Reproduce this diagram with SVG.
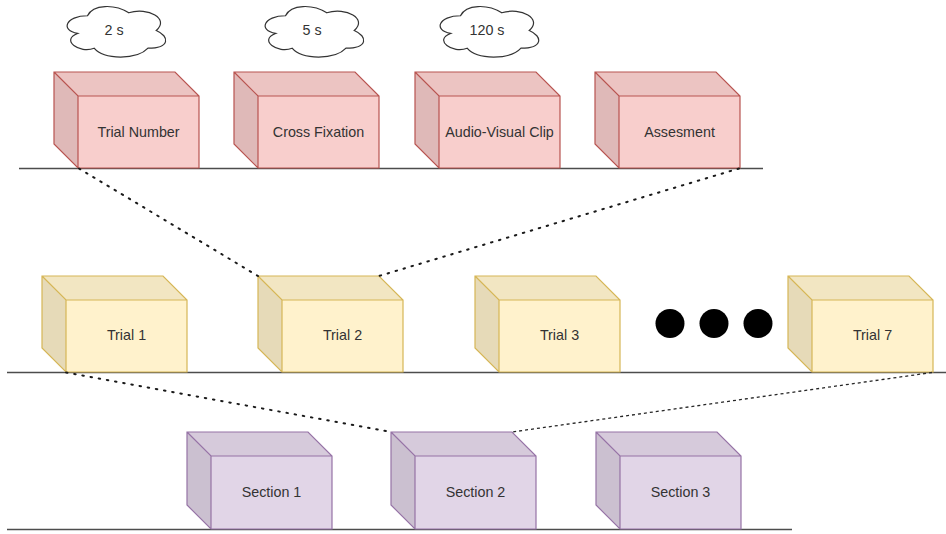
<svg xmlns="http://www.w3.org/2000/svg" width="946" height="534" viewBox="0 0 946 534">
<defs>
<style>
.lbl{font-family:"Liberation Sans",Arial,sans-serif;font-size:14.3px;fill:#333333;text-anchor:middle;dominant-baseline:central}
.ground{stroke:#4d4d4d;stroke-width:1.5;fill:none}
.cloud{fill:#ffffff;stroke:#333333;stroke-width:1.2}
.red .front{fill:#f8cecc}.red .top{fill:#ecc4c2}.red .side{fill:#dfb9b8}.red .edge{stroke:#b85450}
.yel .front{fill:#fff2cc}.yel .top{fill:#f2e6c2}.yel .side{fill:#e6dab8}.yel .edge{stroke:#d6b656}
.pur .front{fill:#e1d5e7}.pur .top{fill:#d6cadb}.pur .side{fill:#cbc0d0}.pur .edge{stroke:#9673a6}
.edge{fill:none;stroke-width:1.2;stroke-linejoin:miter}
.dot{fill:none;stroke:#1a1a1a;stroke-width:2;stroke-dasharray:1.5 6.8;stroke-linecap:round}
.dash{fill:none;stroke:#262626;stroke-width:1.3;stroke-dasharray:3 3}
</style>
</defs>
<rect width="946" height="534" fill="#ffffff"/>

<!-- ground lines -->
<line class="ground" x1="19" y1="168.5" x2="763" y2="168.5"/>
<line class="ground" x1="7" y1="372.5" x2="946" y2="372.5"/>
<line class="ground" x1="7" y1="529.5" x2="792" y2="529.5"/>

<!-- clouds -->
<g id="cloud-2s">
<path class="cloud" transform="translate(60,1) scale(110,59)" vector-effect="non-scaling-stroke" d="M0.25 0.25C0.05 0.25 0 0.5 0.16 0.55C0 0.66 0.18 0.9 0.31 0.8C0.4 1 0.7 1 0.8 0.8C1 0.8 1 0.6 0.875 0.5C1 0.3 0.8 0.1 0.625 0.2C0.5 0.05 0.3 0.05 0.25 0.25Z"/>
<text class="lbl" x="114" y="30">2 s</text>
</g>
<g id="cloud-5s">
<path class="cloud" transform="translate(258,1) scale(110,59)" vector-effect="non-scaling-stroke" d="M0.25 0.25C0.05 0.25 0 0.5 0.16 0.55C0 0.66 0.18 0.9 0.31 0.8C0.4 1 0.7 1 0.8 0.8C1 0.8 1 0.6 0.875 0.5C1 0.3 0.8 0.1 0.625 0.2C0.5 0.05 0.3 0.05 0.25 0.25Z"/>
<text class="lbl" x="312" y="30">5 s</text>
</g>
<g id="cloud-120s">
<path class="cloud" transform="translate(433,1) scale(110,59)" vector-effect="non-scaling-stroke" d="M0.25 0.25C0.05 0.25 0 0.5 0.16 0.55C0 0.66 0.18 0.9 0.31 0.8C0.4 1 0.7 1 0.8 0.8C1 0.8 1 0.6 0.875 0.5C1 0.3 0.8 0.1 0.625 0.2C0.5 0.05 0.3 0.05 0.25 0.25Z"/>
<text class="lbl" x="487" y="30">120 s</text>
</g>

<!-- top row: w=145 h=96 d=24 -->
<g id="trial-number" class="red" transform="translate(54,72)">
<rect class="front" x="24" y="24" width="121" height="72"/>
<polygon class="top" points="0,0 121,0 145,24 24,24"/>
<polygon class="side" points="0,0 24,24 24,96 0,72"/>
<path class="edge" d="M0 0H121L145 24V96H24L0 72Z M0 0L24 24H145 M24 24V96"/>
<text class="lbl" x="84.5" y="60">Trial Number</text>
</g>
<g id="cross-fixation" class="red" transform="translate(234,72)">
<rect class="front" x="24" y="24" width="121" height="72"/>
<polygon class="top" points="0,0 121,0 145,24 24,24"/>
<polygon class="side" points="0,0 24,24 24,96 0,72"/>
<path class="edge" d="M0 0H121L145 24V96H24L0 72Z M0 0L24 24H145 M24 24V96"/>
<text class="lbl" x="84.5" y="60">Cross Fixation</text>
</g>
<g id="audio-visual-clip" class="red" transform="translate(415,72)">
<rect class="front" x="24" y="24" width="121" height="72"/>
<polygon class="top" points="0,0 121,0 145,24 24,24"/>
<polygon class="side" points="0,0 24,24 24,96 0,72"/>
<path class="edge" d="M0 0H121L145 24V96H24L0 72Z M0 0L24 24H145 M24 24V96"/>
<text class="lbl" x="84.5" y="60">Audio-Visual Clip</text>
</g>
<g id="assesment" class="red" transform="translate(595,72)">
<rect class="front" x="24" y="24" width="121" height="72"/>
<polygon class="top" points="0,0 121,0 145,24 24,24"/>
<polygon class="side" points="0,0 24,24 24,96 0,72"/>
<path class="edge" d="M0 0H121L145 24V96H24L0 72Z M0 0L24 24H145 M24 24V96"/>
<text class="lbl" x="84.5" y="60">Assesment</text>
</g>

<!-- middle row -->
<g id="trial-1" class="yel" transform="translate(42,276)">
<rect class="front" x="24" y="24" width="121" height="72"/>
<polygon class="top" points="0,0 121,0 145,24 24,24"/>
<polygon class="side" points="0,0 24,24 24,96 0,72"/>
<path class="edge" d="M0 0H121L145 24V96H24L0 72Z M0 0L24 24H145 M24 24V96"/>
<text class="lbl" x="84.5" y="59">Trial 1</text>
</g>
<g id="trial-2" class="yel" transform="translate(258,276)">
<rect class="front" x="24" y="24" width="121" height="72"/>
<polygon class="top" points="0,0 121,0 145,24 24,24"/>
<polygon class="side" points="0,0 24,24 24,96 0,72"/>
<path class="edge" d="M0 0H121L145 24V96H24L0 72Z M0 0L24 24H145 M24 24V96"/>
<text class="lbl" x="84.5" y="59">Trial 2</text>
</g>
<g id="trial-3" class="yel" transform="translate(475,276)">
<rect class="front" x="24" y="24" width="121" height="72"/>
<polygon class="top" points="0,0 121,0 145,24 24,24"/>
<polygon class="side" points="0,0 24,24 24,96 0,72"/>
<path class="edge" d="M0 0H121L145 24V96H24L0 72Z M0 0L24 24H145 M24 24V96"/>
<text class="lbl" x="84.5" y="59">Trial 3</text>
</g>
<g id="ellipsis">
<circle cx="670" cy="323.5" r="14.5" fill="#000000"/>
<circle cx="714" cy="323.5" r="14.5" fill="#000000"/>
<circle cx="758" cy="323.5" r="14.5" fill="#000000"/>
</g>
<g id="trial-7" class="yel" transform="translate(788,276)">
<rect class="front" x="24" y="24" width="121" height="72"/>
<polygon class="top" points="0,0 121,0 145,24 24,24"/>
<polygon class="side" points="0,0 24,24 24,96 0,72"/>
<path class="edge" d="M0 0H121L145 24V96H24L0 72Z M0 0L24 24H145 M24 24V96"/>
<text class="lbl" x="84.5" y="59">Trial 7</text>
</g>

<!-- bottom row -->
<g id="section-1" class="pur" transform="translate(187,432)">
<rect class="front" x="24" y="24" width="121" height="73"/>
<polygon class="top" points="0,0 121,0 145,24 24,24"/>
<polygon class="side" points="0,0 24,24 24,97 0,73"/>
<path class="edge" d="M0 0H121L145 24V97H24L0 73Z M0 0L24 24H145 M24 24V97"/>
<text class="lbl" x="84.5" y="60">Section 1</text>
</g>
<g id="section-2" class="pur" transform="translate(391,432)">
<rect class="front" x="24" y="24" width="121" height="73"/>
<polygon class="top" points="0,0 121,0 145,24 24,24"/>
<polygon class="side" points="0,0 24,24 24,97 0,73"/>
<path class="edge" d="M0 0H121L145 24V97H24L0 73Z M0 0L24 24H145 M24 24V97"/>
<text class="lbl" x="84.5" y="60">Section 2</text>
</g>
<g id="section-3" class="pur" transform="translate(596,432)">
<rect class="front" x="24" y="24" width="121" height="73"/>
<polygon class="top" points="0,0 121,0 145,24 24,24"/>
<polygon class="side" points="0,0 24,24 24,97 0,73"/>
<path class="edge" d="M0 0H121L145 24V97H24L0 73Z M0 0L24 24H145 M24 24V97"/>
<text class="lbl" x="84.5" y="60">Section 3</text>
</g>

<!-- connectors -->
<g id="connectors">
<line class="dot" x1="79" y1="168.5" x2="258" y2="276"/>
<line class="dot" x1="739" y1="168.5" x2="379" y2="276"/>
<line class="dot" x1="66" y1="372.5" x2="391" y2="432"/>
<line class="dash" x1="932" y1="372.5" x2="512" y2="432"/>
</g>
</svg>
